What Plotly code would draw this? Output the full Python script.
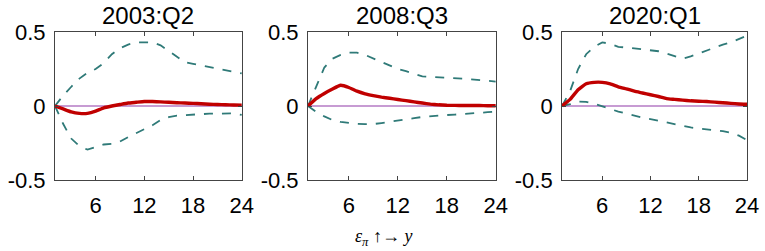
import plotly.graph_objects as go

horizon = list(range(1, 25))
titles = ["2003:Q2", "2008:Q3", "2020:Q1"]

# posterior median response and 68% bands
median_2003 = [0, -0.02, -0.04, -0.05, -0.05, -0.035, -0.012, 0.0, 0.01, 0.02, 0.025, 0.03,
               0.03, 0.028, 0.025, 0.022, 0.02, 0.018, 0.015, 0.012, 0.01, 0.008, 0.007, 0.006]
upper_2003 = [0, 0.07, 0.13, 0.185, 0.225, 0.25, 0.29, 0.35, 0.39, 0.415, 0.43, 0.43,
              0.43, 0.41, 0.37, 0.33, 0.295, 0.285, 0.275, 0.265, 0.255, 0.245, 0.235, 0.22]
lower_2003 = [0, -0.12, -0.22, -0.27, -0.295, -0.275, -0.26, -0.255, -0.24, -0.21, -0.185, -0.16,
              -0.13, -0.095, -0.075, -0.065, -0.06, -0.058, -0.055, -0.052, -0.05, -0.048, -0.05, -0.06]

median_2008 = [0, 0.05, 0.085, 0.115, 0.14, 0.125, 0.1, 0.082, 0.07, 0.06, 0.052, 0.044,
               0.036, 0.028, 0.02, 0.013, 0.008, 0.005, 0.004, 0.003, 0.003, 0.003, 0.002, 0.002]
upper_2008 = [0, 0.13, 0.26, 0.32, 0.345, 0.36, 0.36, 0.345, 0.32, 0.3, 0.27, 0.25,
              0.235, 0.215, 0.2, 0.197, 0.195, 0.192, 0.19, 0.185, 0.18, 0.176, 0.17, 0.165]
lower_2008 = [0, -0.04, -0.07, -0.095, -0.108, -0.116, -0.12, -0.123, -0.122, -0.115, -0.108, -0.098,
              -0.09, -0.082, -0.074, -0.068, -0.064, -0.061, -0.058, -0.055, -0.051, -0.047, -0.042, -0.038]

median_2020 = [0, 0.045, 0.11, 0.15, 0.16, 0.16, 0.15, 0.13, 0.115, 0.1, 0.088, 0.076,
               0.064, 0.05, 0.045, 0.04, 0.035, 0.032, 0.03, 0.026, 0.022, 0.018, 0.014, 0.012]
upper_2020 = [0, 0.1, 0.25, 0.35, 0.4, 0.43, 0.42, 0.4, 0.395, 0.39, 0.385, 0.38,
              0.37, 0.355, 0.335, 0.32, 0.335, 0.355, 0.38, 0.4, 0.415, 0.43, 0.45, 0.475]
lower_2020 = [0, 0.012, 0.03, 0.028, 0.015, 0.0, -0.02, -0.038, -0.052, -0.065, -0.078, -0.088,
              -0.1, -0.11, -0.122, -0.133, -0.145, -0.152, -0.157, -0.162, -0.17, -0.18, -0.2, -0.23]

panels = [
    (median_2003, upper_2003, lower_2003),
    (median_2008, upper_2008, lower_2008),
    (median_2020, upper_2020, lower_2020),
]
domains = [[0.0, 0.270], [0.3656, 0.637], [0.7327, 1.0]]

FONT = "Liberation Sans, Arial, sans-serif"
TEAL = "#2f7a78"
RED = "#c00000"
PURPLE = "#b57ac4"

fig = go.Figure()
annotations = []
for i, (med, up, lo) in enumerate(panels):
    suffix = "" if i == 0 else str(i + 1)
    xa, ya = "x" + suffix, "y" + suffix
    fig.add_trace(go.Scatter(x=horizon, y=[0] * len(horizon), mode="lines", xaxis=xa, yaxis=ya,
                             line={"color": PURPLE, "width": 1.5}, hoverinfo="skip"))
    for band in (up, lo):
        fig.add_trace(go.Scatter(x=horizon, y=band, mode="lines", xaxis=xa, yaxis=ya,
                                 line={"color": TEAL, "width": 1.8, "dash": "dash"}))
    fig.add_trace(go.Scatter(x=horizon, y=med, mode="lines", xaxis=xa, yaxis=ya,
                             line={"color": RED, "width": 3.4, "shape": "spline", "smoothing": 0.4}))

    axis_common = dict(showline=True, mirror="ticks", linecolor="#444444", linewidth=1,
                       ticks="inside", ticklen=4, tickcolor="#444444", showgrid=False,
                       zeroline=False, automargin=False,
                       tickfont={"family": FONT, "size": 22, "color": "#000000"})
    fig.update_layout(**{
        "xaxis" + suffix: dict(domain=domains[i], range=[1, 24], tickvals=[6, 12, 18, 24],
                               anchor=ya, ticklabelstandoff=6, **axis_common),
        "yaxis" + suffix: dict(domain=[0, 1], range=[-0.5, 0.5], tickvals=[-0.5, 0, 0.5],
                               ticktext=["-0.5", "0", "0.5"], anchor=xa, ticklabelstandoff=4,
                               **axis_common),
    })
    annotations.append(dict(text=titles[i], x=sum(domains[i]) / 2, y=1.0, xref="paper", yref="paper",
                            xanchor="center", yanchor="middle", yshift=17, showarrow=False,
                            font={"family": FONT, "size": 24, "color": "#000000"}))

annotations.append(dict(text="<i>ε<sub>π</sub></i> ↑→ <i>y</i>", x=0.475, y=-0.39, xref="paper",
                        yref="paper", xanchor="center", yanchor="middle", showarrow=False,
                        font={"family": "Liberation Serif, Times New Roman, serif", "size": 18,
                              "color": "#000000"}))

fig.update_layout(
    width=765, height=251, showlegend=False,
    margin={"l": 55, "r": 18, "t": 32, "b": 71},
    paper_bgcolor="white", plot_bgcolor="white",
    annotations=annotations,
)
# drop the browser's default 8px body margin so the figure sits at the page origin
fig.write_html("out.html", config={"displayModeBar": False},
               post_script="document.body.style.margin = '0';")
